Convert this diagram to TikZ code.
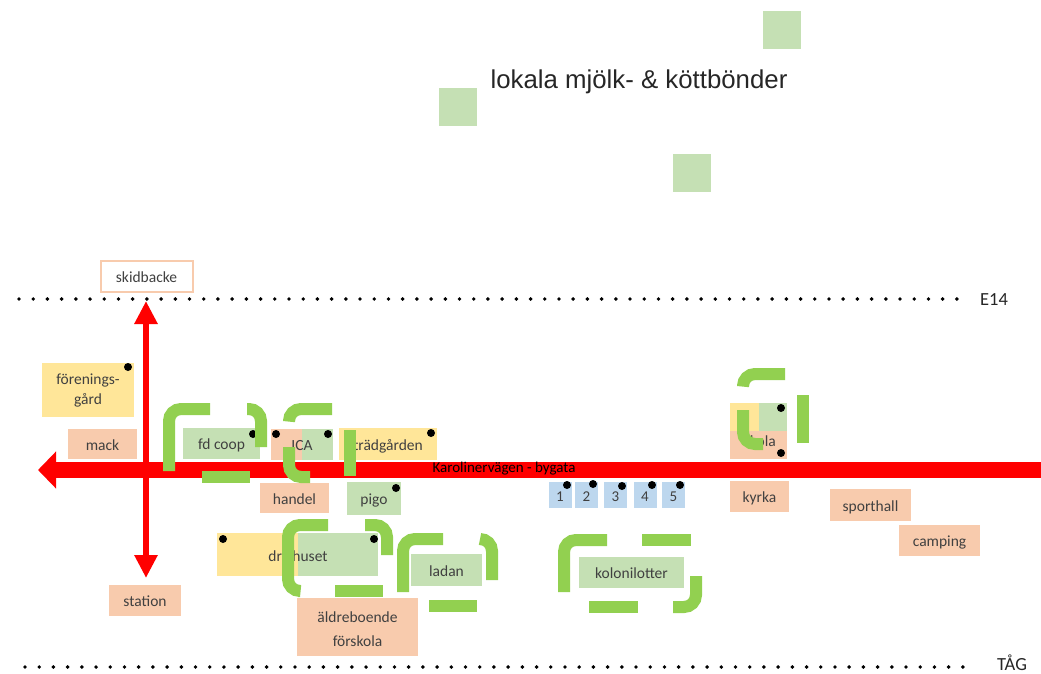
\documentclass[tikz,border=0pt]{standalone}
\usepackage{fontspec}
\setmainfont{Carlito}
\newfontfamily\helv{Liberation Sans}
\usetikzlibrary{arrows.meta}
\definecolor{gbox}{HTML}{C5E0B4}
\definecolor{sbox}{HTML}{F8CBAD}
\definecolor{ybox}{HTML}{FFE699}
\definecolor{bbox}{HTML}{BDD7EE}
\definecolor{frm}{HTML}{92D050}
\definecolor{txt}{HTML}{404040}
\begin{document}
\begin{tikzpicture}[x=1pt,y=-1pt,
  mbox/.style={rectangle, inner sep=0pt, text=txt, font=\fontsize{15.5}{17}\selectfont},
  box/.style={mbox, text height=15pt, text depth=2.5pt},
  lbl/.style={inner sep=0pt, text=txt, font=\fontsize{15.5}{17}\selectfont, text height=15pt, text depth=2.5pt},
  numbox/.style={rectangle, inner sep=0pt, fill=bbox, minimum width=23pt, minimum height=26pt, text=txt, font=\fontsize{15}{17}\selectfont, text height=14pt, text depth=2pt},
  sq/.style={rectangle, fill=gbox, minimum width=38pt, minimum height=38pt, inner sep=0pt},
  pin/.style={fill=black},
  frame/.style={draw=frm, line width=12pt, rounded corners=12pt},
  dotline/.style={line width=3.9pt, line cap=round, dash pattern=on 0pt off 14.21pt},
  road/.style={draw=red}
]
\useasboundingbox (0,0) rectangle (1041,674);
\fill[white] (0,0) rectangle (1041,674);

% top
\node[sq] (sq1) at (782,30) {};
\node[sq] (sq2) at (458,107) {};
\node[sq] (sq3) at (692,173) {};
\node[font=\helv\fontsize{25.8}{29}\selectfont, text=black!85, inner sep=0pt] (farm) at (639,82) {lokala mjölk- \& köttbönder};

% dotted lines
\coordinate (e14a) at (19,299);
\coordinate (e14b) at (958,299);
\draw[dotline] (e14a) -- (e14b);
\node[font=\fontsize{18.5}{20}\selectfont, text=black!85] (e14) at (994,300) {E14};
\coordinate (taga) at (25,667);
\coordinate (tagb) at (964,667);
\draw[dotline] (taga) -- (tagb);
\node[font=\fontsize{18.5}{20}\selectfont, text=black!85, inner sep=0pt] (tag) at (1012,663) {TÅG};

\node[box, draw=sbox, line width=2pt, fill=white, minimum width=92pt, minimum height=31pt] (skid) at (146.5,276) {skidbacke};

% red roads
\coordinate (vtop) at (146,301);
\coordinate (vbot) at (146,578);
\draw[road, line width=6pt, {Triangle[length=23pt,width=22pt]}-{Triangle[length=23pt,width=22pt]}] (vbot) -- (vtop);
\coordinate (hr) at (1041,470);
\coordinate (hl) at (38,470);
\draw[road, line width=16pt, -{Triangle[length=18pt,width=36pt]}] (hr) -- (hl);
\node[inner sep=0pt, font=\fontsize{15}{16}\selectfont, text=black] (karo) at (504,469) {Karolinervägen - bygata};

% boxes
\node[mbox, fill=ybox, minimum width=92pt, minimum height=54pt, align=center, font=\fontsize{15.5}{20}\selectfont] (foren) at (88,390) {förenings-\\gård};
\node[box, fill=sbox, minimum width=69pt, minimum height=30pt] (mack) at (102.5,444) {mack};
\node[box, fill=gbox, minimum width=77pt, minimum height=31pt] (coop) at (221.5,443.5) {fd coop};
\node[box, fill=sbox, minimum width=62pt, minimum height=31pt] (ica) at (302,444.5) {};
\fill[gbox] (ica.north) rectangle (ica.south east);
\node[lbl] (icaT) at (ica.center) {ICA};
\node[box, fill=ybox, minimum width=98pt, minimum height=32pt] (trad) at (388,444) {trädgården};
\node[box, fill=sbox, minimum width=69pt, minimum height=30pt] (handel) at (294.5,498) {handel};
\node[box, fill=gbox, minimum width=54pt, minimum height=33pt] (pigo) at (374,498.5) {pigo};

\node[numbox] (n1) at (560,495) {1};
\node[numbox] (n2) at (586.5,495) {2};
\node[numbox] (n3) at (615.5,495) {3};
\node[numbox] (n4) at (645,495) {4};
\node[numbox] (n5) at (673.5,495) {5};

\node[box, fill=sbox, minimum width=57pt, minimum height=56pt] (skola) at (758.5,431) {};
\fill[ybox] (skola.north west) rectangle (skola.center);
\fill[gbox] (skola.north) rectangle (skola.east);
\node[lbl] (skolaT) at (760,440) {skola};

\node[box, fill=sbox, minimum width=59pt, minimum height=31pt] (kyrka) at (759.5,496.5) {kyrka};
\node[box, fill=sbox, minimum width=81pt, minimum height=32pt] (sport) at (870.5,505) {sporthall};
\node[box, fill=sbox, minimum width=81pt, minimum height=31pt] (camp) at (939.5,540.5) {camping};

\node[box, fill=ybox, minimum width=161pt, minimum height=43pt] (driv) at (297.5,554.5) {};
\fill[gbox] (driv.north) rectangle (driv.south east);
\node[lbl] (drivT) at (298,555) {drivhuset};

\node[box, fill=gbox, minimum width=71pt, minimum height=32pt] (ladan) at (446.5,570) {ladan};
\node[box, fill=sbox, minimum width=121pt, minimum height=58pt] (aldre) at (357.5,627) {};
\node[mbox, align=center, font=\fontsize{15.5}{24}\selectfont] (aldreT) at (357.5,629) {äldreboende\\förskola};
\node[box, fill=gbox, minimum width=105pt, minimum height=31pt] (kolo) at (631.5,572.5) {kolonilotter};
\node[box, fill=sbox, minimum width=72pt, minimum height=31pt] (station) at (145,600.5) {station};

% pins
\foreach \p in {(128,367),(253,434),(276,434),(328,434),(431,433),(396,488),(567,485),(593,484),(622,486),(652,485),(680,485),(781,408),(781,453),(223,539),(374,539)}
  \fill[pin] \p circle (4pt);

% green dashed frames
% fd coop
\draw[frame] (210,409) -- (169,409) -- (169,471);
\draw[frame] (202,477) -- (250,477);
\draw[frame] (247,409) -- (261,409) -- (261,447);
% ICA
\draw[frame] (332,409) -- (289,409) -- (289,420);
\draw[frame] (289,447) -- (289,477) -- (310,477);
\draw[frame] (350,430) -- (350,476);
% drivhuset
\draw[frame] (328,525) -- (288,525) -- (288,591) -- (298,591);
\draw[frame] (335,591) -- (383,591);
\draw[frame] (365,525) -- (387,525) -- (387,555);
% ladan
\draw[frame] (443,539) -- (403,539) -- (403,592);
\draw[frame] (429,606) -- (477,606);
\draw[frame] (480,539) -- (492,539) -- (492,580);
% kolonilotter
\draw[frame] (607,540) -- (564,540) -- (564,592);
\draw[frame] (642,540) -- (691,540);
\draw[frame] (696,576) -- (696,607) -- (673,607);
\draw[frame] (589,607) -- (638,607);
% skola
\draw[frame] (785,374) -- (743,374) -- (743,385);
\draw[frame] (743,410) -- (743,444) -- (763,444);
\draw[frame] (803,395) -- (803,443);
\end{tikzpicture}
\end{document}
